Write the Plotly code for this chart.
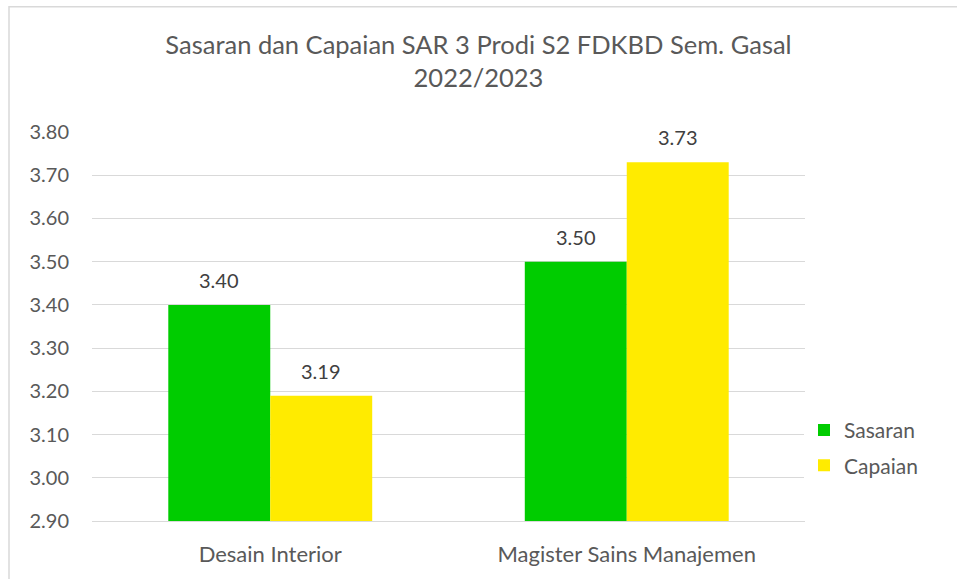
import plotly.graph_objects as go

categories = ["Desain Interior", "Magister Sains Manajemen"]
sasaran = [3.40, 3.50]
capaian = [3.19, 3.73]
series_names = ["Sasaran", "Capaian"]
tick_vals = [2.90, 3.00, 3.10, 3.20, 3.30, 3.40, 3.50, 3.60, 3.70, 3.80]

colors = ["#00CC00", "#FFEB00"]
FONT = "Lato, 'Open Sans', sans-serif"

fig = go.Figure()
for name, vals, col in zip(series_names, [sasaran, capaian], colors):
    fig.add_trace(go.Bar(name=name, x=categories, y=vals, legendgroup=name,
                         marker=dict(color=col, line=dict(width=0))))

annotations = []
for shift, vals in zip([-51, 51], [sasaran, capaian]):
    for c, v in zip(categories, vals):
        annotations.append(dict(x=c, y=v, xref="x", yref="y", text=f"{v:.2f}", showarrow=False,
                                xshift=shift, yshift=25, font=dict(family=FONT, size=20, color="#404040")))

fig.update_layout(
    width=957, height=579,
    margin=dict(l=92, r=152, t=132, b=58),
    paper_bgcolor="white", plot_bgcolor="white",
    barmode="group", bargap=0.428, bargroupgap=0,
    title=dict(text="Sasaran dan Capaian SAR 3 Prodi S2 FDKBD Sem. Gasal<br>2022/2023",
               x=0.5, xanchor="center", y=0.907, yanchor="top",
               font=dict(family=FONT, size=25.5, color="#595959")),
    annotations=annotations,
    legend=dict(x=0.9986, xanchor="left", y=0.188, yanchor="middle", traceorder="grouped",
                font=dict(family=FONT, size=21, color="#595959"), tracegroupgap=5),
    shapes=[dict(type="rect", xref="paper", yref="paper", x0=-0.1164, x1=1.22, y0=-0.17, y1=1.322,
                 line=dict(color="#D9D9D9", width=1.5), fillcolor="rgba(0,0,0,0)")],
    font=dict(family=FONT),
)
fig.update_yaxes(range=[2.9, 3.8], tickvals=tick_vals, tickformat=".2f",
                 showgrid=True, gridcolor="#D9D9D9", gridwidth=1, zeroline=False,
                 tickfont=dict(family=FONT, size=20, color="#595959"), ticklabelstandoff=22)
fig.update_xaxes(showline=True, linecolor="#D9D9D9", linewidth=1,
                 tickfont=dict(family=FONT, size=22, color="#595959"), ticklabelstandoff=14)

fig.write_html("out.html", config={"displayModeBar": False},
               post_script="document.body.style.margin='0';")
